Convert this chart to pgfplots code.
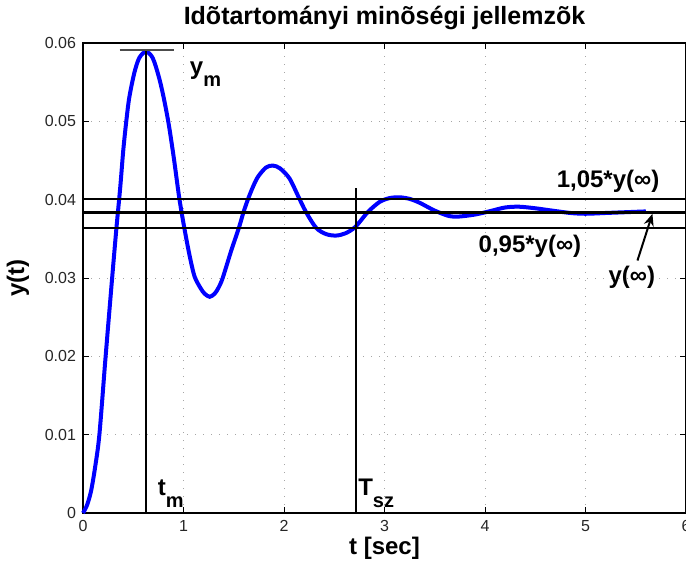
\documentclass[border=0pt]{standalone}
\usepackage{fontspec}
\setmainfont{Liberation Sans}
\usepackage{pgfplots}
\pgfplotsset{compat=1.18}
\usetikzlibrary{arrows.meta}
\newcommand{\sub}[1]{\raisebox{-6pt}{\fontsize{10}{12}\selectfont\bfseries #1}}
\begin{document}
\begin{tikzpicture}
\begin{axis}[name=ax, scale only axis, width=301.5pt, height=235pt,
  xmin=0, xmax=6, ymin=0, ymax=0.06,
  xtick={0,1,2,3,4,5,6}, ytick={0,0.01,0.02,0.03,0.04,0.05,0.06},
  scaled y ticks=false,
  yticklabel style={/pgf/number format/fixed, /pgf/number format/precision=2},
  /pgf/number format/assume math mode=true,
  tick label style={font=\fontsize{8}{9}\selectfont, color=black!85},
  grid=major,
  major grid style={gray!70, line width=0.5pt, dash pattern=on 0.6pt off 3.4pt},
  axis line style={line width=0.6pt},
  tick style={black, line width=0.5pt}, major tick length=3pt,
  title={Idõtartományi minõségi jellemzõk},
  title style={font=\bfseries\fontsize{12.5}{14}\selectfont, at={(axis description cs:0.5,1.0277)}, anchor=center},
  xlabel={t [sec]}, ylabel={y(t)},
  xlabel style={font=\bfseries\fontsize{12}{14}\selectfont, at={(axis description cs:0.5,-0.0745)}, anchor=center},
  ylabel style={font=\bfseries\fontsize{12}{14}\selectfont, at={(axis description cs:-0.1078,0.5)}, anchor=center},
  clip=false]
\addplot[blue, line width=2pt, smooth] coordinates {
(0.00,0.0000) (0.04,0.0010) (0.08,0.0028) (0.12,0.0058) (0.163,0.0100) (0.222,0.0195)
(0.28,0.0285) (0.33,0.0360) (0.37,0.0415) (0.40,0.0462) (0.428,0.0497) (0.46,0.0530)
(0.511,0.0562) (0.56,0.0581) (0.626,0.0589) (0.693,0.0581) (0.752,0.0558) (0.80,0.0532)
(0.852,0.0497) (0.905,0.0452) (0.958,0.0402) (1.008,0.0364) (1.06,0.0329) (1.11,0.0302)
(1.17,0.0287) (1.21,0.0280) (1.26,0.0276) (1.31,0.0280) (1.35,0.0288) (1.39,0.0300)
(1.475,0.0335) (1.551,0.0364) (1.597,0.0384) (1.64,0.0400) (1.69,0.0416) (1.74,0.0429)
(1.82,0.0441) (1.889,0.04435) (1.96,0.0440) (2.055,0.0427) (2.15,0.0402) (2.22,0.0384)
(2.32,0.0364) (2.42,0.0356) (2.519,0.03542) (2.61,0.0357) (2.708,0.0365) (2.833,0.0384)
(2.95,0.0397) (3.05,0.0402) (3.15,0.0403) (3.25,0.0401) (3.35,0.0396) (3.50,0.0386)
(3.645,0.0379) (3.745,0.03785) (3.90,0.0381) (4.04,0.0385) (4.20,0.0390) (4.34,0.0391)
(4.50,0.0389) (4.67,0.0386) (4.85,0.0383) (5.00,0.0382) (5.20,0.0383) (5.40,0.0384)
(5.60,0.0385)
};
\addplot[black, line width=1pt] coordinates {(0,0.0401) (6,0.0401)};
\addplot[black, line width=1.6pt] coordinates {(0,0.0384) (6,0.0384)};
\addplot[black, line width=1.3pt] coordinates {(0,0.0364) (6,0.0364)};
\addplot[black, line width=1pt] coordinates {(0.628,0) (0.628,0.0590)};
\addplot[black!70, line width=0.7pt] coordinates {(0.365,0.0591) (0.905,0.0591)};
\addplot[black, line width=1pt] coordinates {(2.717,0) (2.717,0.04146)};
\draw[-{Stealth[length=6pt,width=5pt]}, line width=1pt] (axis cs:5.517,0.03223) -- (axis cs:5.666,0.0382);
\node[anchor=base west, inner sep=0, font=\bfseries\fontsize{12}{14}\selectfont] at (axis cs:1.06,0.0560) {y\sub{m}};
\node[anchor=base west, inner sep=0, font=\bfseries\fontsize{12}{14}\selectfont] at (axis cs:0.742,0.00227) {t\sub{m}};
\node[anchor=base west, inner sep=0, font=\bfseries\fontsize{12}{14}\selectfont] at (axis cs:2.735,0.00227) {T\sub{sz}};
\node[anchor=base west, inner sep=0, font=\bfseries\fontsize{12}{14}\selectfont] at (axis cs:4.71,0.04158) {1,05*y(∞)};
\node[anchor=base west, inner sep=0, font=\bfseries\fontsize{12}{14}\selectfont] at (axis cs:3.933,0.0333) {0,95*y(∞)};
\node[anchor=base west, inner sep=0, font=\bfseries\fontsize{12}{14}\selectfont] at (axis cs:5.226,0.0293) {y(∞)};
\end{axis}
\pgfresetboundingbox
\path[use as bounding box] ([shift={(-41.5pt,-26.5pt)}]ax.south west) rectangle ([shift={(0pt,21.5pt)}]ax.north east);
\end{tikzpicture}
\end{document}
